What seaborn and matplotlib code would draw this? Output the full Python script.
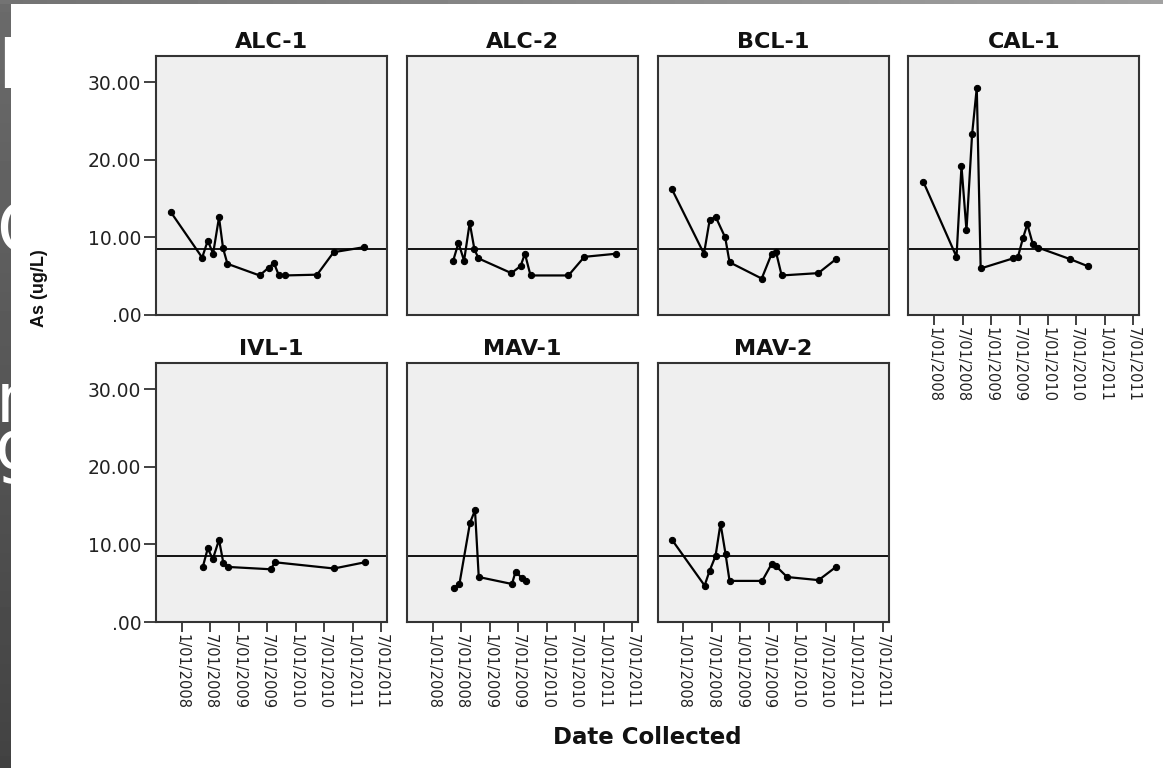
import matplotlib
matplotlib.use("Agg")
import matplotlib.pyplot as plt
from matplotlib import font_manager
import numpy as np
import pandas as pd
import seaborn as sns

# ---------------- data ----------------
sites = ["ALC-1", "ALC-2", "BCL-1", "CAL-1", "IVL-1", "MAV-1", "MAV-2"]

alc1_dates = ["2007-10-21", "2008-05-10", "2008-06-15", "2008-07-19", "2008-08-26", "2008-09-21",
              "2008-10-19", "2009-05-13", "2009-07-10", "2009-08-13", "2009-09-14", "2009-10-20",
              "2010-05-17", "2010-08-31", "2011-03-15"]
alc1_vals = [13.3, 7.4, 9.6, 7.9, 12.6, 8.6, 6.6, 5.1, 6.1, 6.7, 5.1, 5.1, 5.2, 8.1, 8.75]

alc2_dates = ["2008-05-10", "2008-06-13", "2008-07-19", "2008-08-24", "2008-09-23", "2008-10-19",
              "2009-05-18", "2009-07-16", "2009-08-13", "2009-09-18", "2010-05-19", "2010-08-29",
              "2011-03-20"]
alc2_vals = [7.0, 9.3, 7.0, 11.9, 8.5, 7.3, 5.4, 6.3, 7.9, 5.1, 5.1, 7.5, 7.9]

bcl1_dates = ["2007-10-20", "2008-05-12", "2008-06-17", "2008-07-25", "2008-09-25", "2008-10-23",
              "2009-05-17", "2009-07-20", "2009-08-17", "2009-09-22", "2010-05-15", "2010-09-05"]
bcl1_vals = [16.2, 7.9, 12.2, 12.7, 10.0, 6.8, 4.7, 7.9, 8.1, 5.1, 5.4, 7.2]

cal1_dates = ["2007-10-23", "2008-05-23", "2008-06-24", "2008-07-26", "2008-08-31", "2008-09-30",
              "2008-10-25", "2009-05-20", "2009-06-21", "2009-07-23", "2009-08-20", "2009-09-25",
              "2009-10-27", "2010-05-22", "2010-09-11"]
cal1_vals = [17.2, 7.5, 19.2, 10.9, 23.3, 29.3, 6.0, 7.3, 7.5, 9.9, 11.7, 9.1, 8.7, 7.2, 6.3]

ivl1_dates = ["2008-05-14", "2008-06-15", "2008-07-17", "2008-08-26", "2008-09-23", "2008-10-23",
              "2009-07-23", "2009-08-21", "2010-09-02", "2011-03-19"]
ivl1_vals = [7.1, 9.5, 8.1, 10.6, 7.6, 7.1, 6.8, 7.7, 6.9, 7.7]

mav1_dates = ["2008-05-16", "2008-06-19", "2008-08-26", "2008-09-27", "2008-10-21", "2009-05-22",
              "2009-06-14", "2009-07-23", "2009-08-19"]
mav1_vals = [4.4, 4.9, 12.8, 14.4, 5.8, 4.9, 6.5, 5.7, 5.3]

mav2_dates = ["2007-10-20", "2008-05-16", "2008-06-17", "2008-07-25", "2008-08-26", "2008-09-27",
              "2008-10-23", "2009-05-20", "2009-07-20", "2009-08-17", "2009-10-27", "2010-05-17",
              "2010-09-05"]
mav2_vals = [10.6, 4.7, 6.6, 8.5, 12.7, 8.8, 5.3, 5.3, 7.5, 7.2, 5.8, 5.4, 7.1]

reference_value = 8.5

ytick_vals = [0, 10, 20, 30]
ytick_labels = [".00", "10.00", "20.00", "30.00"]
xtick_dates = ["2008-01-01", "2008-07-01", "2009-01-01", "2009-07-01",
               "2010-01-01", "2010-07-01", "2011-01-01", "2011-07-01"]
xtick_labels = ["1/01/2008", "7/01/2008", "1/01/2009", "7/01/2009",
                "1/01/2010", "7/01/2010", "1/01/2011", "7/01/2011"]

series = {
    "ALC-1": (alc1_dates, alc1_vals),
    "ALC-2": (alc2_dates, alc2_vals),
    "BCL-1": (bcl1_dates, bcl1_vals),
    "CAL-1": (cal1_dates, cal1_vals),
    "IVL-1": (ivl1_dates, ivl1_vals),
    "MAV-1": (mav1_dates, mav1_vals),
    "MAV-2": (mav2_dates, mav2_vals),
}
frames = []
for s in sites:
    d, v = series[s]
    frames.append(pd.DataFrame({"site": s, "date": pd.to_datetime(d), "as": v}))
df = pd.concat(frames, ignore_index=True)

# ---------------- style ----------------
sns.set_style("ticks")
plt.rcParams['font.family'] = ['DejaVu Sans']

installed = {f.name for f in font_manager.fontManager.ttflist}
if "Liberation Sans Narrow" in installed:
    ylab_family, ylab_size = "Liberation Sans Narrow", 15.5
elif "DejaVu Sans Condensed" in installed:
    ylab_family, ylab_size = "DejaVu Sans Condensed", 12.5
else:
    ylab_family, ylab_size = "Liberation Sans", 13

W, H = 1163, 768
fig = plt.figure(figsize=(W / 100, H / 100), dpi=100, facecolor="white")

# slide background strips
bg_left = fig.add_axes([0, 0, 11 / W, 1], zorder=-5)
bg_left.imshow(np.linspace(0.42, 0.26, 200).reshape(-1, 1), cmap="gray", vmin=0, vmax=1,
               aspect="auto", extent=[0, 1, 0, 1])
bg_left.axis("off")
bg_top = fig.add_axes([0, 1 - 4 / H, 1, 4 / H], zorder=-5)
bg_top.imshow(np.linspace(0.45, 0.63, 200).reshape(1, -1), cmap="gray", vmin=0, vmax=1,
              aspect="auto", extent=[0, 1, 0, 1])
bg_top.axis("off")
for ch, xp, yp in [("I", -3, 88), ("C", -4, 252), ("n", -4, 422), ("g", -6, 470)]:
    bg_left.text(xp / W, 1 - yp / H, ch, color="white", fontsize=50, va="baseline", ha="left",
                 transform=fig.transFigure, clip_on=True)

col_left = [156, 407, 657.5, 908.3]
row_top = [56, 363]
aw, ah = 231, 259
xmin, xmax = pd.Timestamp("2007-07-19"), pd.Timestamp("2011-08-08")

for i, site in enumerate(sites):
    r, c = divmod(i, 4)
    ax = fig.add_axes([col_left[c] / W, 1 - (row_top[r] + ah) / H, aw / W, ah / H])
    sub = df[df["site"] == site]
    sns.lineplot(data=sub, x="date", y="as", ax=ax, color="black", linewidth=1.6,
                 marker="o", markersize=4.5, markeredgecolor="black", estimator=None)
    ax.axhline(reference_value, color="black", linewidth=1.3, zorder=1)
    ax.set_facecolor("#efefef")
    ax.set_xlim(xmin, xmax)
    ax.set_ylim(0, 33.4)
    ax.set_title(site, fontsize=16, fontweight="bold", pad=6, color="#111111")
    ax.set_xlabel("")
    ax.set_ylabel("")
    for sp in ax.spines.values():
        sp.set_visible(True)
        sp.set_color("#333333")
        sp.set_linewidth(1.5)
    ax.set_yticks(ytick_vals)
    if c == 0:
        ax.set_yticklabels(ytick_labels, fontsize=13.5, color="#222222")
        ax.tick_params(axis="y", length=9, width=1.3, color="#333333", pad=1.5)
    else:
        ax.tick_params(axis="y", left=False, labelleft=False)
    ax.set_xticks(pd.to_datetime(xtick_dates))
    if r == 1 or site == "CAL-1":
        ax.set_xticklabels(xtick_labels, rotation=270, fontsize=10.5, color="#222222",
                           ha="center", va="top")
        ax.tick_params(axis="x", length=7, width=1.3, color="#333333", pad=1.5)
    else:
        ax.tick_params(axis="x", bottom=False, labelbottom=False)

fig.text(39 / W, 1 - 288 / H, "As (ug/L)", rotation=90, fontsize=ylab_size, fontweight="bold",
         family=ylab_family, ha="center", va="center", color="#111111")
fig.text(647 / W, 1 - 737 / H, "Date Collected", fontsize=16.5, fontweight="bold",
         ha="center", va="center", color="#111111")

fig.savefig("out.png", dpi=100)
